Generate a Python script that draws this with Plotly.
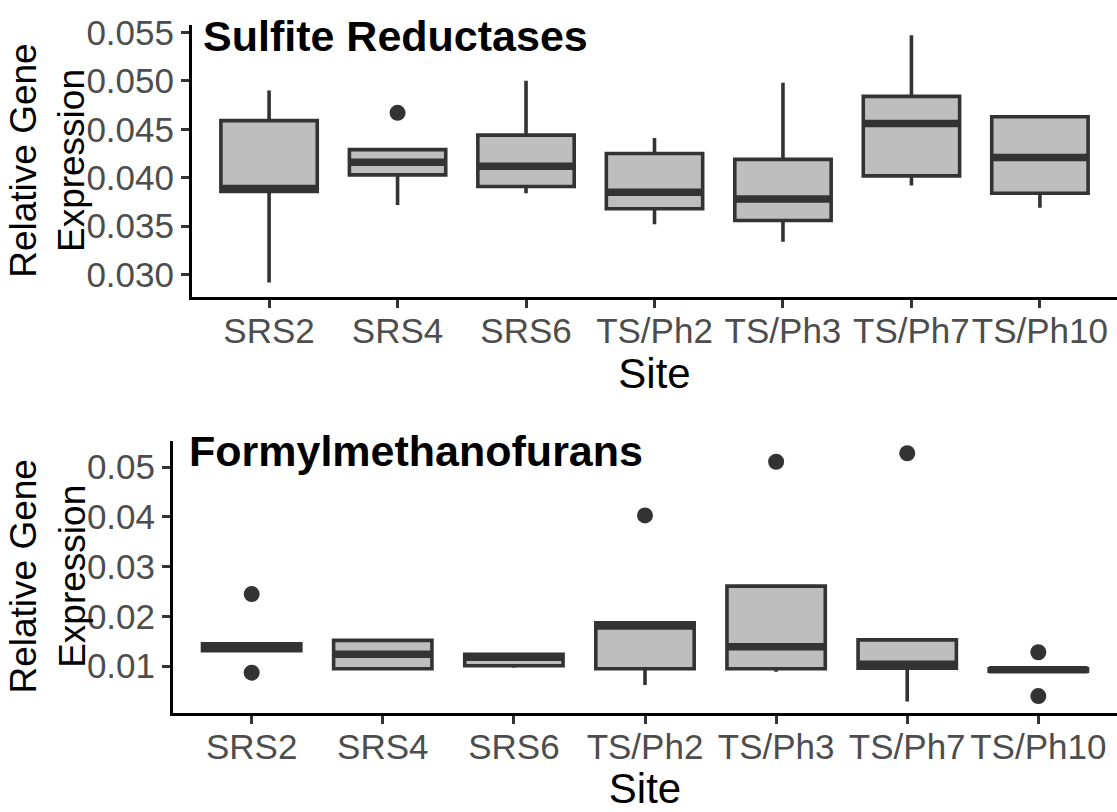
import plotly.graph_objects as go

# Sampling sites (shared by both panels)
sites = ["SRS2", "SRS4", "SRS6", "TS/Ph2", "TS/Ph3", "TS/Ph7", "TS/Ph10"]

# Sulfite reductases: box statistics per site
sr_lower = [0.0292, 0.0372, 0.0384, 0.0352, 0.0334, 0.0392, 0.0369]
sr_q1 = [0.0386, 0.0403, 0.0391, 0.0368, 0.0356, 0.0402, 0.0384]
sr_median = [0.0389, 0.0416, 0.0412, 0.0385, 0.0378, 0.0456, 0.0421]
sr_q3 = [0.0459, 0.0429, 0.0444, 0.0425, 0.0419, 0.0484, 0.0463]
sr_upper = [0.0490, 0.0429, 0.0500, 0.0441, 0.0498, 0.0547, 0.0463]
sr_out_site = ["SRS4"]
sr_out_val = [0.0467]

# Formylmethanofurans: box statistics per site
fm_lower = [0.0131, 0.0095, 0.0097, 0.0062, 0.0089, 0.0029, 0.0090]
fm_q1 = [0.0131, 0.0095, 0.0101, 0.0095, 0.0095, 0.0096, 0.0090]
fm_median = [0.0137, 0.0124, 0.0118, 0.0181, 0.0139, 0.0104, 0.0093]
fm_q3 = [0.0145, 0.0152, 0.0124, 0.0187, 0.0261, 0.0153, 0.0095]
fm_upper = [0.0145, 0.0154, 0.0124, 0.0187, 0.0261, 0.0153, 0.0095]
fm_out_site = ["SRS2", "SRS2", "TS/Ph2", "TS/Ph3", "TS/Ph7", "TS/Ph10", "TS/Ph10"]
fm_out_val = [0.0245, 0.0087, 0.0403, 0.0511, 0.0528, 0.0128, 0.0040]

# Tick values
sr_ticks = [0.030, 0.035, 0.040, 0.045, 0.050, 0.055]
fm_ticks = [0.01, 0.02, 0.03, 0.04, 0.05]

LINE = "#333333"
FILL = "#BEBEBE"
BOX_W = 0.75
FONT = "Liberation Sans, Arial, sans-serif"
TICK_SIZE = 35
TITLE_SIZE = 37

pos = {s: i + 1 for i, s in enumerate(sites)}
xs = [pos[s] for s in sites]

fig = go.Figure()


def add_panel(xa, ya, lower, q1, med, q3, upper, out_site, out_val):
    fig.add_trace(go.Box(
        x=xs, lowerfence=lower, q1=q1, median=med, q3=q3, upperfence=upper,
        width=BOX_W, whiskerwidth=0, fillcolor=FILL,
        line=dict(color=LINE, width=3.6), boxpoints=False,
        xaxis=xa, yaxis=ya, showlegend=False, hoverinfo="skip",
    ))
    # heavier median bars
    mx, my = [], []
    for x, m in zip(xs, med):
        mx += [x - BOX_W / 2, x + BOX_W / 2, None]
        my += [m, m, None]
    fig.add_trace(go.Scatter(
        x=mx, y=my, mode="lines", line=dict(color=LINE, width=7.5),
        xaxis=xa, yaxis=ya, showlegend=False, hoverinfo="skip",
    ))
    fig.add_trace(go.Scatter(
        x=[pos[s] for s in out_site], y=out_val, mode="markers",
        marker=dict(color=LINE, size=16),
        xaxis=xa, yaxis=ya, showlegend=False, hoverinfo="skip",
    ))


add_panel("x", "y", sr_lower, sr_q1, sr_median, sr_q3, sr_upper, sr_out_site, sr_out_val)
add_panel("x2", "y2", fm_lower, fm_q1, fm_median, fm_q3, fm_upper, fm_out_site, fm_out_val)

W, H = 1117, 812

xcommon = dict(
    range=[0.4, 7.6], tickmode="array", tickvals=xs, ticktext=sites,
    showline=True, linecolor="black", linewidth=3, mirror=False,
    ticks="outside", ticklen=8, tickwidth=2.5, tickcolor=LINE,
    showgrid=False, zeroline=False, ticklabelstandoff=-7,
    tickfont=dict(family=FONT, size=TICK_SIZE, color="#4D4D4D"),
    title=dict(text="Site", font=dict(family=FONT, size=42, color="black"), standoff=0),
)
ycommon = dict(
    tickmode="array",
    showline=True, linecolor="black", linewidth=3,
    ticks="outside", ticklen=8, tickwidth=2.5, tickcolor=LINE,
    showgrid=False, zeroline=False,
    tickfont=dict(family=FONT, size=TICK_SIZE, color="#4D4D4D"),
)


def ytitle(ymid):
    return dict(text="Relative Gene<br>Expression", xref="paper", yref="paper",
                x=48 / W, y=1 - ymid / H, xanchor="center", yanchor="middle",
                textangle=-90, showarrow=False,
                font=dict(family=FONT, size=TITLE_SIZE, color="black"))


fig.update_layout(
    width=W, height=H,
    margin=dict(l=0, r=0, t=0, b=0),
    paper_bgcolor="white", plot_bgcolor="white",
    xaxis=dict(xcommon, domain=[192 / W, 1.0], anchor="y"),
    yaxis=dict(ycommon, domain=[1 - 289 / H, 1 - 13 / H], anchor="x",
               range=[0.02773, 0.05578], tickvals=sr_ticks, tickformat=".3f"),
    xaxis2=dict(xcommon, domain=[173 / W, 1.0], anchor="y2"),
    yaxis2=dict(ycommon, domain=[1 - 712 / H, 1 - 435 / H], anchor="x2",
                range=[0.00050, 0.05535], tickvals=fm_ticks, tickformat=".2f"),
    annotations=[
        dict(text="<b>Sulfite Reductases</b>", xref="paper", yref="paper",
             x=201 / W, y=1 + 2 / H, xanchor="left", yanchor="top", showarrow=False,
             font=dict(family=FONT, size=43, color="black")),
        dict(text="<b>Formylmethanofurans</b>", xref="paper", yref="paper",
             x=187 / W, y=1 - 419 / H, xanchor="left", yanchor="top", showarrow=False,
             font=dict(family=FONT, size=43, color="black")),
        ytitle(151),
        ytitle(573),
    ],
)

fig.write_html("out.html")
